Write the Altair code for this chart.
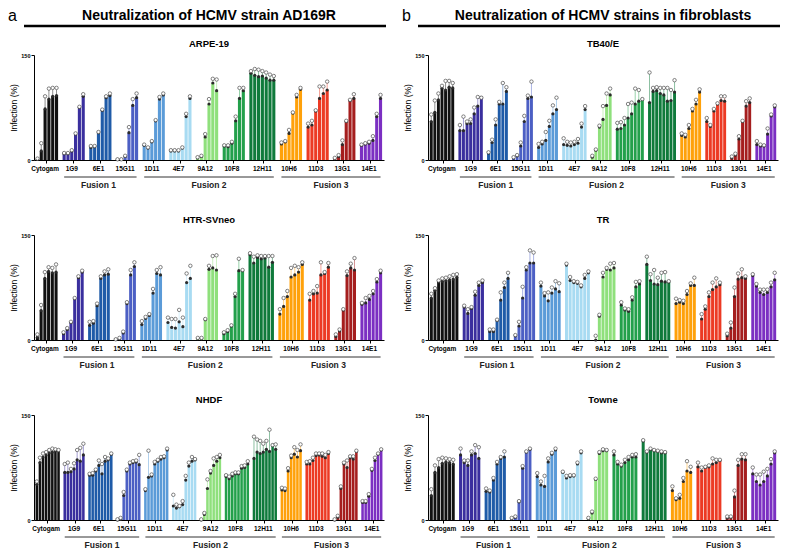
import altair as alt
import pandas as pd

FONT = "Liberation Sans"

GROUPS = ["Cytogam", "1G9", "6E1", "15G11", "1D11", "4E7", "9A12", "10F8", "12H11",
          "10H6", "11D3", "13G1", "14E1"]
COLORS = ["#111111", "#3a2f9e", "#1f5ba8", "#4c5fc4", "#5b9bd8", "#a8dbf2", "#8fe07c",
          "#23a04b", "#0f7a3b", "#ffa10a", "#ec3a24", "#a51e1e", "#7b2fc2"]
FUSIONS = ["Fusion 1", "Fusion 2", "Fusion 3"]
FUSION_MEMBERS = [["1G9", "6E1", "15G11"],
                  ["1D11", "4E7", "9A12", "10F8", "12H11"],
                  ["10H6", "11D3", "13G1", "14E1"]]

ARPE19_MEAN = [
    [1, 13, 73, 87, 91, 92], [9, 9, 13, 37, 75, 91], [18, 19, 39, 71, 89, 92],
    [1, 1, 5, 39, 78, 89], [21, 17, 26, 56, 87, 93], [13, 13, 13, 17, 62, 88],
    [3, 5, 33, 80, 110, 99], [20, 19, 24, 56, 88, 99], [124, 121, 119, 120, 117, 114, 114],
    [23, 26, 38, 67, 90, 101], [47, 50, 70, 88, 95, 100], [2, 5, 22, 55, 85, 88],
    [21, 23, 24, 28, 62, 88]]
ARPE19_HIGH = [
    [2, 24, 91, 102, 103, 103], [10, 10, 14, 38, 76, 94], [20, 20, 40, 72, 91, 95],
    [1, 1, 6, 47, 87, 95], [22, 18, 27, 57, 90, 95], [14, 14, 14, 18, 66, 91],
    [4, 6, 37, 87, 116, 115], [21, 21, 26, 62, 103, 103], [127, 130, 129, 127, 125, 122, 120],
    [25, 27, 43, 68, 93, 103], [52, 56, 71, 105, 105, 112], [3, 7, 28, 56, 86, 94],
    [22, 24, 26, 34, 66, 93]]

HTR_MEAN = [
    [4, 42, 88, 98, 96, 97], [9, 15, 25, 59, 89, 97], [21, 24, 49, 88, 93, 94],
    [1, 2, 10, 52, 93, 105], [22, 31, 35, 67, 95, 93], [25, 18, 17, 26, 19, 82, 88],
    [2, 2, 29, 101, 103, 100], [9, 12, 20, 62, 99, 99], [122, 110, 118, 116, 117, 104, 111],
    [37, 48, 62, 90, 93, 97, 108], [57, 66, 67, 93, 95, 104], [5, 13, 43, 92, 103, 100],
    [51, 53, 58, 66, 83, 96]]
HTR_HIGH = [
    [8, 50, 97, 104, 103, 108], [11, 17, 26, 60, 91, 99], [26, 27, 52, 91, 98, 101],
    [1, 3, 12, 54, 100, 111], [27, 33, 37, 73, 100, 104], [32, 30, 30, 43, 32, 95, 106],
    [3, 3, 30, 106, 120, 121], [11, 14, 21, 66, 116, 100], [124, 119, 121, 120, 120, 120, 120],
    [44, 60, 70, 103, 106, 104, 111], [66, 70, 77, 111, 97, 110], [8, 15, 44, 98, 109, 117],
    [53, 60, 63, 70, 87, 99]]

NHDF_MEAN = [
    [51, 82, 90, 93, 96, 97, 99, 99], [68, 68, 69, 73, 86, 84, 93],
    [64, 64, 70, 78, 66, 84, 86, 94], [0, 1, 35, 70, 80, 82, 83, 79],
    [42, 61, 63, 80, 84, 87, 89, 100], [20, 17, 19, 22, 57, 77, 84, 86],
    [0, 8, 45, 67, 78, 84, 89], [62, 59, 63, 66, 66, 74, 75, 80],
    [88, 97, 95, 97, 101, 98, 107, 101], [43, 42, 70, 89, 94, 90, 99],
    [80, 80, 85, 92, 93, 91, 89, 95], [0, 4, 45, 80, 75, 89, 87, 98],
    [25, 25, 34, 71, 85, 94, 100]]
NHDF_HIGH = [
    [55, 89, 95, 97, 100, 102, 101, 100], [80, 82, 73, 81, 100, 103, 109],
    [66, 67, 72, 85, 80, 90, 88, 95], [1, 3, 40, 72, 82, 84, 85, 93],
    [44, 99, 65, 83, 86, 90, 91, 102], [36, 22, 20, 27, 63, 82, 90, 87],
    [1, 10, 58, 70, 88, 90, 93], [64, 62, 66, 68, 68, 77, 78, 84],
    [119, 115, 113, 109, 113, 129, 103, 108], [46, 45, 74, 92, 104, 100, 108],
    [83, 84, 89, 95, 95, 95, 93, 97], [1, 6, 48, 82, 85, 91, 91, 99],
    [27, 27, 37, 73, 89, 95, 101]]

TB40_MEAN = [
    [55, 68, 86, 103, 100, 104, 103], [42, 42, 52, 52, 66, 77, 89], [10, 25, 50, 80, 80, 98],
    [3, 6, 20, 55, 88, 90], [18, 23, 28, 48, 66, 72], [22, 21, 20, 22, 24, 47, 72],
    [4, 14, 47, 58, 78, 93], [44, 45, 50, 60, 66, 80, 84, 87], [82, 98, 99, 95, 93, 84, 85, 97],
    [35, 33, 45, 70, 80, 97], [55, 48, 70, 80, 85, 84], [3, 7, 30, 55, 77, 82],
    [22, 20, 20, 37, 63, 76]]
TB40_HIGH = [
    [65, 85, 95, 106, 113, 113, 110], [50, 62, 55, 58, 75, 90, 89], [11, 29, 58, 83, 110, 104],
    [4, 7, 25, 63, 92, 112], [23, 26, 40, 56, 78, 89], [31, 26, 25, 26, 30, 52, 77],
    [6, 15, 49, 77, 95, 102], [53, 54, 60, 80, 82, 102, 100, 87],
    [125, 103, 104, 103, 103, 103, 100, 114],
    [38, 36, 50, 73, 86, 101], [60, 50, 73, 81, 91, 91], [5, 9, 34, 56, 84, 88],
    [27, 22, 21, 45, 65, 78]]

TR_MEAN = [
    [60, 71, 83, 84, 85, 86, 87, 90], [47, 38, 45, 64, 78, 82], [12, 12, 28, 57, 75, 88],
    [6, 20, 60, 100, 110, 110], [77, 63, 56, 67, 73, 69], [107, 85, 82, 81, 76, 88, 96],
    [0, 34, 90, 101, 100, 103], [50, 43, 41, 57, 76, 80], [108, 85, 80, 79, 84, 83, 83],
    [52, 54, 52, 65, 78, 78], [30, 44, 62, 72, 76, 79], [6, 17, 62, 87, 89, 88],
    [92, 77, 68, 65, 68, 76, 86]]
TR_HIGH = [
    [66, 74, 85, 88, 89, 91, 93, 94], [49, 44, 47, 69, 82, 85], [15, 15, 29, 68, 82, 96],
    [7, 26, 76, 104, 128, 125], [82, 67, 68, 75, 84, 81], [109, 90, 84, 83, 78, 93, 98],
    [6, 36, 96, 103, 109, 110], [54, 45, 44, 61, 83, 84], [119, 94, 100, 89, 96, 97, 84],
    [59, 57, 56, 70, 81, 89], [37, 48, 68, 82, 88, 82], [9, 25, 75, 95, 101, 91],
    [94, 80, 72, 72, 72, 82, 96]]

TOWNE_MEAN = [
    [35, 68, 75, 81, 83, 82, 80], [93, 82, 78, 93, 95, 88], [41, 40, 57, 80, 88, 90],
    [2, 4, 26, 74, 97, 101], [62, 50, 48, 83, 94, 100], [68, 60, 62, 63, 80, 96],
    [2, 10, 58, 95, 99, 99], [93, 80, 77, 82, 86, 90, 90], [113, 97, 101, 99, 98, 96, 96],
    [42, 29, 31, 55, 70, 68], [76, 70, 75, 76, 80, 82, 85], [3, 4, 33, 78, 87, 86],
    [66, 55, 50, 55, 63, 80, 96]]
TOWNE_HIGH = [
    [44, 78, 87, 89, 88, 87, 86], [102, 85, 85, 98, 107, 104], [45, 42, 60, 83, 90, 98],
    [3, 5, 27, 77, 98, 102], [67, 55, 63, 88, 96, 102], [69, 63, 64, 64, 82, 98],
    [3, 12, 59, 97, 101, 100], [98, 83, 79, 86, 90, 93, 94], [114, 98, 102, 100, 99, 98, 97],
    [48, 31, 36, 60, 84, 76], [82, 75, 76, 78, 88, 86, 86], [5, 5, 42, 86, 94, 94],
    [75, 65, 65, 69, 73, 87, 98]]

W, H = 350, 105


def panel(title, means, highs, title_y=-15, header=None, letter=None):
    rows, domain, centers, group_slots = [], [], [], {}
    for gi, g in enumerate(GROUPS):
        if gi > 0:
            domain.append(f"gap{gi}")
        n = len(means[gi])
        group_slots[g] = []
        for k, (m, h) in enumerate(zip(means[gi], highs[gi])):
            s = f"{g}|{k}"
            domain.append(s)
            group_slots[g].append(s)
            rows.append(dict(slot=s, group=g, mean=m, high=max(h, m)))
        centers.append(f"{g}|{(n - 1) // 2}")
    df = pd.DataFrame(rows)

    xscale = alt.Scale(domain=domain, paddingInner=0.18, paddingOuter=0.5)
    xs = alt.X("slot:N", scale=xscale,
               axis=alt.Axis(values=centers, labelExpr="split(datum.value,'|')[0]",
                             bandPosition=1, labelAngle=0, title=None, labelFont=FONT,
                             labelFontSize=6.5, labelFontWeight="bold", labelColor="black",
                             tickSize=3, tickColor="black", domainColor="black",
                             labelPadding=2, labelOverlap=False))
    ys = alt.Y("mean:Q", scale=alt.Scale(domain=[0, 150], nice=False),
               axis=alt.Axis(values=[0, 50, 100, 150], title="Infection (%)",
                             titleFont=FONT, titleFontSize=8.5, titleFontWeight="normal",
                             titleColor="black", titlePadding=2, labelFont=FONT,
                             labelFontSize=5.5, labelFontWeight="bold", labelColor="black",
                             tickSize=3, tickColor="black", domainColor="black",
                             labelPadding=1))
    col = alt.Color("group:N", scale=alt.Scale(domain=GROUPS, range=COLORS), legend=None)

    base = alt.Chart(df)
    bars = base.mark_bar().encode(x=xs, y=ys, color=col)
    err = base.mark_rule(strokeWidth=0.8, opacity=0.6).encode(
        x=xs, y="mean:Q", y2="high:Q", color=col)
    dots = base.mark_point(shape="circle", filled=True, size=10, color="#2b2b2b",
                           opacity=1).encode(x=xs, y="mean:Q")
    circ = base.mark_point(shape="circle", fill="white", stroke="#4d4d4d", strokeWidth=0.7,
                           size=12, opacity=1, fillOpacity=1).encode(x=xs, y="high:Q")

    frows, trows = [], []
    for f, members in zip(FUSIONS, FUSION_MEMBERS):
        first = group_slots[members[0]][0]
        last = group_slots[members[-1]][-1]
        i0, i1 = domain.index(first), domain.index(last)
        mid = domain[(i0 + i1) // 2]
        frows.append(dict(slot=first, slot_end=last))
        trows.append(dict(slot=mid, name=f))
    frule = alt.Chart(pd.DataFrame(frows)).mark_rule(color="#333333", strokeWidth=1).encode(
        x=xs, x2="slot_end:N", y=alt.value(H + 17))
    ftext = alt.Chart(pd.DataFrame(trows)).mark_text(
        font=FONT, fontSize=8.5, fontWeight="bold", color="#222222").encode(
        x=xs, text="name:N", y=alt.value(H + 25))

    tdf = pd.DataFrame({"t": [title]})
    ptitle = alt.Chart(tdf).mark_text(font=FONT, fontSize=9.5, fontWeight="bold",
                                      color="black").encode(
        x=alt.value(W / 2), y=alt.value(title_y), text="t:N")

    layers = [bars, err, dots, circ, frule, ftext, ptitle]
    if header:
        hdf = pd.DataFrame({"t": [header], "l": [letter]})
        layers.append(alt.Chart(hdf).mark_text(font=FONT, fontSize=14, fontWeight="bold",
                                               color="black").encode(
            x=alt.value(W / 2), y=alt.value(-39), text="t:N"))
        layers.append(alt.Chart(hdf).mark_rule(color="black", strokeWidth=2.5).encode(
            x=alt.value(-10), x2=alt.value(W + 2), y=alt.value(-29)))
        layers.append(alt.Chart(hdf).mark_text(font=FONT, fontSize=16, color="black",
                                               align="left").encode(
            x=alt.value(-26), y=alt.value(-39), text="l:N"))
    return alt.layer(*layers).properties(width=W, height=H)


left = alt.vconcat(
    panel("ARPE-19", ARPE19_MEAN, ARPE19_HIGH, title_y=-11,
          header="Neutralization of HCMV strain AD169R", letter="a"),
    panel("HTR-SVneo", HTR_MEAN, HTR_HIGH),
    panel("NHDF", NHDF_MEAN, NHDF_HIGH),
    spacing=25)
right = alt.vconcat(
    panel("TB40/E", TB40_MEAN, TB40_HIGH, title_y=-11,
          header="Neutralization of HCMV strains in fibroblasts", letter="b"),
    panel("TR", TR_MEAN, TR_HIGH),
    panel("Towne", TOWNE_MEAN, TOWNE_HIGH),
    spacing=25)

chart = alt.hconcat(left, right, spacing=14).properties(padding=0).configure_view(
    stroke=None).configure_axis(grid=False)

chart.save("out.html", embed_options={"renderer": "svg", "actions": False})
